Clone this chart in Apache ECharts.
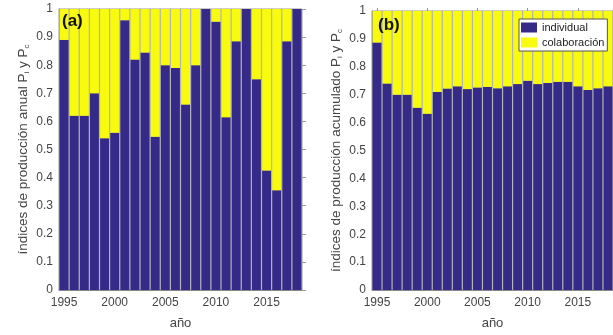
<!DOCTYPE html>
<html>
<head>
<meta charset="utf-8">
<script src="https://cdn.jsdelivr.net/npm/echarts@6/dist/echarts.min.js"></script>
<style>
html,body{margin:0;padding:0;background:#fff;}
#chart{width:613px;height:335px;}
</style>
</head>
<body>
<div id="chart"></div>
<script>
const years = ['1995','1996','1997','1998','1999','2000','2001','2002','2003','2004','2005','2006','2007','2008','2009','2010','2011','2012','2013','2014','2015','2016','2017','2018'];

// (a) annual production indices
const anualIndividual = [0.89,0.62,0.62,0.70,0.54,0.56,0.96,0.82,0.845,0.545,0.80,0.79,0.66,0.80,1.00,0.955,0.615,0.885,1.00,0.75,0.425,0.355,0.885,1.00];
const anualColaboracion = [0.11,0.38,0.38,0.30,0.46,0.44,0.04,0.18,0.155,0.455,0.20,0.21,0.34,0.20,0.00,0.045,0.385,0.115,0.00,0.25,0.575,0.645,0.115,0.00];

// (b) cumulative production indices
const acumIndividual = [0.887,0.74,0.70,0.70,0.653,0.632,0.71,0.722,0.73,0.72,0.726,0.728,0.723,0.73,0.738,0.75,0.738,0.742,0.746,0.746,0.73,0.717,0.723,0.73];
const acumColaboracion = [0.113,0.26,0.30,0.30,0.347,0.368,0.29,0.278,0.27,0.28,0.274,0.272,0.277,0.27,0.262,0.25,0.262,0.258,0.254,0.254,0.27,0.283,0.277,0.27];

const BLUE = '#352a87';
const YELLOW = '#f9fb0e';
const TXT = '#444';
const FONT = 'Liberation Sans';

const chart = echarts.init(document.getElementById('chart'));

function showYear(idx, val){ return (+val) % 5 === 0; }

function xAxis(gridIndex){
  return {
    type:'category', gridIndex, data: years, boundaryGap:true,
    axisLine:{show:true, lineStyle:{color:'#888', width:1}},
    axisTick:{show:true, inside:true, length:3, alignWithLabel:true, interval: showYear, lineStyle:{color:'#888'}},
    axisLabel:{interval: showYear, color:TXT, fontSize:12, fontFamily:FONT, margin:7},
    name:'año', nameLocation:'middle', nameGap:27,
    nameTextStyle:{color:TXT, fontSize:13, fontFamily:FONT}
  };
}
function xAxisTop(gridIndex){
  return {
    type:'category', gridIndex, data: years, boundaryGap:true, position:'top',
    axisLine:{show:false},
    axisTick:{show:true, inside:false, length:3, alignWithLabel:true, interval: showYear, lineStyle:{color:'#999'}},
    axisLabel:{show:false}
  };
}
function yAxis(gridIndex, nameStr, gap){
  return {
    type:'value', gridIndex, min:0, max:1, interval:0.1,
    axisLine:{show:true, lineStyle:{color:'#888'}},
    axisTick:{show:true, inside:true, length:3, lineStyle:{color:'#888'}},
    splitLine:{show:false},
    axisLabel:{color:TXT, fontSize:12, fontFamily:FONT, margin:6},
    name: nameStr, nameLocation:'middle', nameGap:gap, nameRotate:90,
    nameTextStyle:{
      color:TXT, fontSize:13.5, fontFamily:FONT,
      rich:{
        a:{fontSize:13.5, fontFamily:FONT, color:TXT, lineHeight:16, verticalAlign:'middle'},
        s:{fontSize:8, fontFamily:FONT, color:TXT, lineHeight:8, verticalAlign:'bottom'}
      }
    }
  };
}
function yAxisRight(gridIndex){
  return {
    type:'value', gridIndex, min:0, max:1, interval:0.1, position:'right',
    axisLine:{show:false},
    axisTick:{show:true, inside:false, length:4, lineStyle:{color:'#999'}},
    splitLine:{show:false},
    axisLabel:{show:false}
  };
}

const gridBg = '#b4b4b8';

chart.setOption({
  animation:false,
  backgroundColor:'#fff',
  grid:[
    {left:59, right:311, top:9, bottom:45, show:true, backgroundColor:gridBg, borderColor:'#999', borderWidth:1},
    {left:372, right:-2, top:11, bottom:45, show:true, backgroundColor:gridBg, borderColor:'#999', borderWidth:1}
  ],
  xAxis:[xAxis(0), xAxis(1), xAxisTop(0), xAxisTop(1)],
  yAxis:[
    yAxis(0, '{a|índices de producción anual P}{s|i}{a| y P}{s|c}', 28),
    yAxis(1, '{a|índices de producción acumulado P}{s|i}{a| y P}{s|c}', 28),
    yAxisRight(0)
  ],
  legend:{
    orient:'vertical', left:519, top:19,
    backgroundColor:'#fff', borderColor:'#555', borderWidth:1,
    padding:[3,3,3,2], itemWidth:16, itemHeight:10, itemGap:4,
    icon:'rect',
    textStyle:{fontSize:11, color:'#222', fontFamily:FONT},
    data:['individual','colaboración']
  },
  graphic:[
    {type:'text', left:62, top:13, z:100, style:{text:'(a)', font:'bold 17px "Liberation Sans"', fill:'#111'}},
    {type:'text', left:378, top:17, z:100, style:{text:'(b)', font:'bold 17px "Liberation Sans"', fill:'#111'}}
  ],
  series:[
    {name:'individual', type:'bar', stack:'a', xAxisIndex:0, yAxisIndex:0, data:anualIndividual, barCategoryGap:'12%', itemStyle:{color:BLUE}},
    {name:'colaboración', type:'bar', stack:'a', xAxisIndex:0, yAxisIndex:0, data:anualColaboracion, barCategoryGap:'12%', itemStyle:{color:YELLOW}},
    {name:'individual', type:'bar', stack:'b', xAxisIndex:1, yAxisIndex:1, data:acumIndividual, barCategoryGap:'12%', itemStyle:{color:BLUE}},
    {name:'colaboración', type:'bar', stack:'b', xAxisIndex:1, yAxisIndex:1, data:acumColaboracion, barCategoryGap:'12%', itemStyle:{color:YELLOW}}
  ]
});
</script>
</body>
</html>
